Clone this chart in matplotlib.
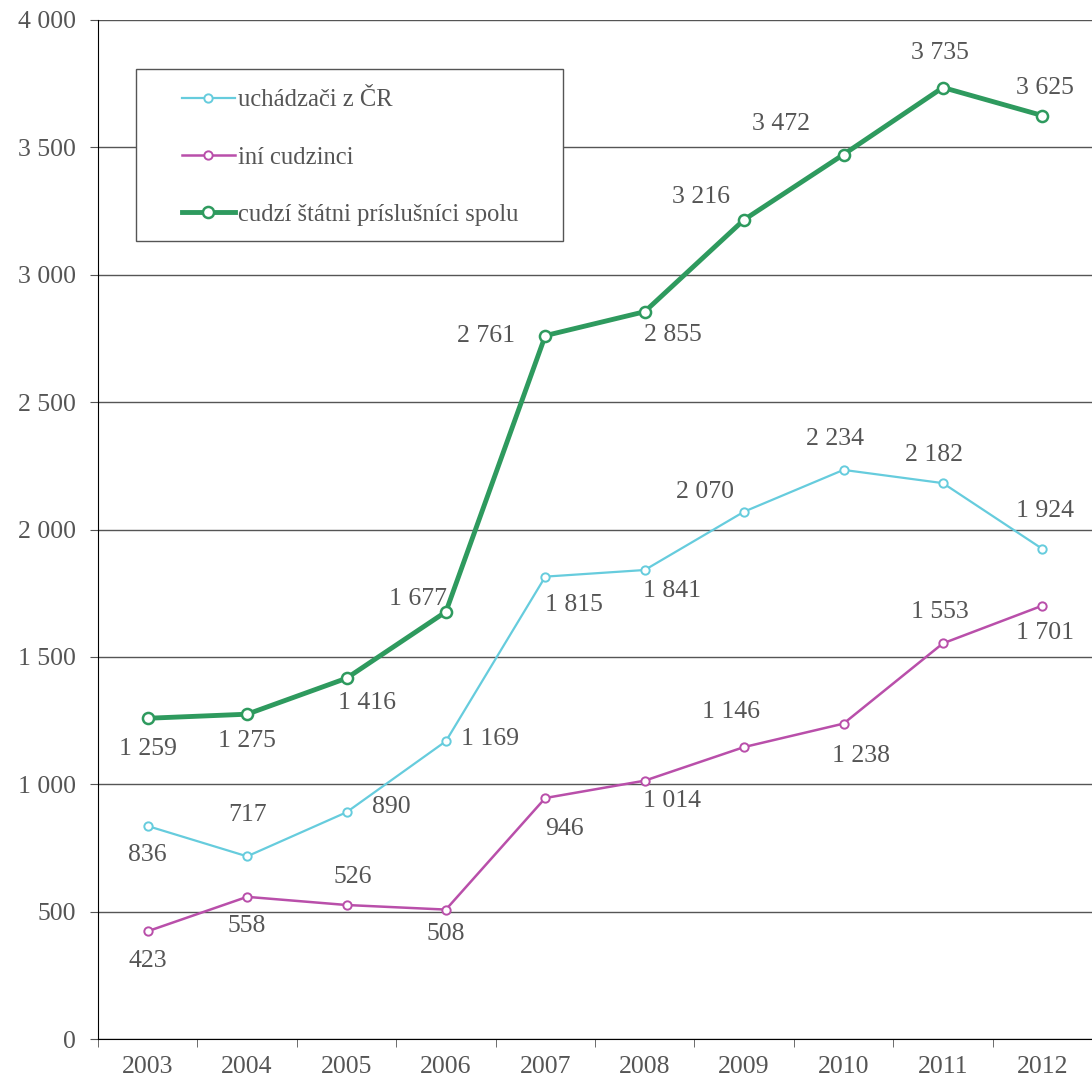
import matplotlib.pyplot as plt
from matplotlib.patches import Rectangle
from matplotlib.ticker import FuncFormatter, FixedLocator

plt.rcParams['font.family'] = ['Liberation Serif', 'DejaVu Serif']

years = ['2003', '2004', '2005', '2006', '2007', '2008', '2009', '2010', '2011', '2012']
uchadzaci = [836, 717, 890, 1169, 1815, 1841, 2070, 2234, 2182, 1924]
ini = [423, 558, 526, 508, 946, 1014, 1146, 1238, 1553, 1701]
spolu = [1259, 1275, 1416, 1677, 2761, 2855, 3216, 3472, 3735, 3625]

# label offsets in pixels (dx, dy)
off_uch = [(0, -29), (0, 41), (45, 5), (44, 2), (29, -28), (27, -21), (-39, 20), (-9, 31), (-9, 28), (3, 38)]
off_ini = [(0, -30), (0, -29), (6, 28), (0, -24), (19, -31), (27, -20), (-13, 35), (18, -32), (-3, 31), (3, -27)]
off_spo = [(0, -31), (0, -27), (20, -25), (-28, 13), (-59, 0), (28, -23), (-43, 23), (-63, 31), (-3, 35), (3, 28)]

c_uch = '#66CCDD'
c_ini = '#B94FAA'
c_spo = '#2E9A5E'
txt = '#555555'

W, H = 1092, 1084
fig = plt.figure(figsize=(W / 100, H / 100), dpi=100)
ax = fig.add_axes([98 / W, 45 / H, 994 / W, 1019 / H])

x = list(range(len(years)))
l1, = ax.plot(x, uchadzaci, color=c_uch, lw=1.6, marker='o', ms=6, mfc='white', mew=1.4, label='uchádzači z ČR')
l2, = ax.plot(x, ini, color=c_ini, lw=1.8, marker='o', ms=6, mfc='white', mew=1.4, label='iní cudzinci')
l3, = ax.plot(x, spolu, color=c_spo, lw=3.5, marker='o', ms=8, mfc='white', mew=1.8, label='cudzí štátni príslušníci spolu')


def fmt(v):
    return f'{int(v):,}'.replace(',', ' ')


for vals, offs in [(uchadzaci, off_uch), (ini, off_ini), (spolu, off_spo)]:
    for i, v in enumerate(vals):
        ax.annotate(fmt(v), (i, v), xytext=offs[i], textcoords='offset pixels',
                    ha='center', va='center', fontsize=18.5, color=txt)

ax.set_xlim(-0.5, len(years) - 0.5)
ax.set_ylim(0, 4000)
ax.set_yticks(range(0, 4001, 500))
ax.yaxis.set_major_formatter(FuncFormatter(lambda v, p: fmt(v)))
ax.set_xticks(x)
ax.set_xticklabels(years)
ax.xaxis.set_minor_locator(FixedLocator([i - 0.5 for i in range(len(years) + 1)]))
ax.tick_params(axis='x', which='major', length=0, pad=12, labelsize=18.5, labelcolor=txt)
ax.tick_params(axis='x', which='minor', length=6, color='#555555', direction='out')
ax.tick_params(axis='y', length=6, color='#555555', pad=10, labelsize=18.5, labelcolor=txt)
ax.grid(axis='y', color='#555555', lw=1)
ax.set_axisbelow(True)
for s in ['top', 'right']:
    ax.spines[s].set_visible(False)
ax.spines['left'].set_color('black')
ax.spines['bottom'].set_color('black')

# legend box
fig.patches.append(Rectangle((136 / W, 1 - 241 / H), (563 - 136) / W, (241 - 69) / H,
                             transform=fig.transFigure, facecolor='white', edgecolor='#555555',
                             lw=1.0, zorder=3))
leg = fig.legend(handles=[l1, l2, l3], loc='center left', bbox_to_anchor=(182 / W, 1 - 157.5 / H),
                 frameon=False, fontsize=17.7, labelcolor=txt, handlelength=2.15,
                 labelspacing=1.42, borderpad=0, handletextpad=0.12, borderaxespad=0)
leg.set_zorder(4)

fig.savefig('out.png', dpi=100)
